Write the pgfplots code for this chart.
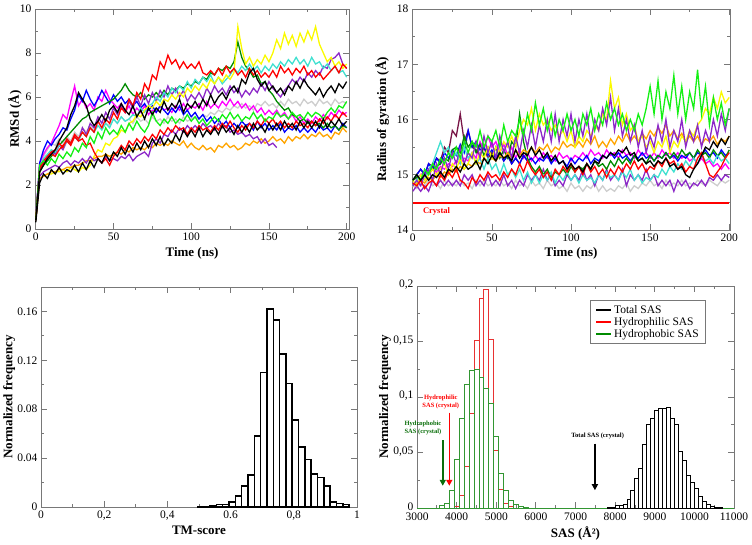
\documentclass[border=0pt]{standalone}
\usepackage{fontspec}
\setmainfont{Liberation Serif}
\usepackage{pgfplots}
\pgfplotsset{compat=1.18}
\usetikzlibrary{arrows.meta}
\definecolor{gred}{RGB}{255,0,0}
\definecolor{ggreen}{RGB}{20,240,20}
\definecolor{gblue}{RGB}{0,0,255}
\definecolor{gyellow}{RGB}{250,250,0}
\definecolor{ggrey}{RGB}{205,205,205}
\definecolor{gviolet}{RGB}{140,40,200}
\definecolor{gturq}{RGB}{64,224,208}
\definecolor{gmag}{RGB}{255,0,255}
\definecolor{gorange}{RGB}{255,165,0}
\definecolor{gdgreen}{RGB}{0,139,0}
\definecolor{gmaroon}{RGB}{120,20,70}
\definecolor{axgray}{RGB}{120,120,120}
\definecolor{hred}{RGB}{232,50,50}
\definecolor{hgreen}{RGB}{50,150,50}
\definecolor{adgreen}{RGB}{10,110,10}
\newcommand{\ser}[2]{\addplot[#1, line width=1.3pt] table[x expr=\coordindex*2.5, y index=0, header=false, row sep=\\]{#2};}
\pgfplotsset{panel/.style 2 args={scale only axis, anchor=south west,
  axis line style={axgray, line width=0.8pt}, tick style={axgray, line width=0.8pt},
  major tick length=6pt, minor tick length=3pt,
  scaled x ticks=false, scaled y ticks=false,
  tick label style={font=\fontsize{11.5}{13}\selectfont},
  every axis y label/.style={at={(axis description cs:#1,0.5)}, rotate=90, anchor=center, font=\bfseries\fontsize{13}{15}\selectfont},
  every axis x label/.style={at={(axis description cs:0.5,#2)}, anchor=center, font=\bfseries\fontsize{13}{15}\selectfont}}}
\begin{document}
\begin{tikzpicture}
\path[use as bounding box] (0,0) rectangle (752pt,544pt);
% ---------------- Panel 1: RMSd
\begin{axis}[panel={-0.064}{-0.109}, at={(35pt,315pt)}, width=314pt, height=220pt,
  xmin=-0.5, xmax=201.5, ymin=0, ymax=10,
  xtick={0,50,100,150,200}, xticklabels={0,50,100,150,200},
  ytick={0,2,4,6,8,10}, yticklabels={0,2,4,6,8,10},
  minor x tick num=1, minor y tick num=1,
  xlabel={Time (ns)}, ylabel={RMSd (Å)}]
\ser{ggrey}{0.4\\2.9\\3.3\\3.6\\3.9\\3.8\\4.1\\3.9\\4.2\\4.0\\4.4\\4.2\\4.6\\4.4\\4.7\\4.5\\4.9\\4.6\\4.8\\4.7\\5.0\\4.8\\5.1\\4.9\\5.0\\4.8\\5.1\\4.9\\5.0\\4.8\\5.1\\4.9\\5.0\\4.8\\5.1\\4.9\\5.0\\4.8\\5.1\\4.9\\5.0\\5.1\\5.0\\5.2\\5.1\\5.3\\5.2\\5.4\\5.3\\5.5\\5.4\\5.6\\5.5\\5.7\\5.5\\5.6\\5.4\\5.7\\5.6\\5.8\\5.6\\5.7\\5.5\\5.8\\5.6\\5.9\\5.7\\5.8\\5.6\\5.9\\5.7\\5.8\\5.6\\5.9\\5.7\\5.8\\5.6\\5.9\\5.7\\5.8\\5.7\\}
\ser{gmag}{0.4\\3.0\\3.4\\3.7\\3.9\\4.3\\4.7\\5.2\\5.0\\5.8\\6.5\\5.6\\5.9\\5.5\\5.7\\5.4\\6.0\\5.8\\6.3\\5.9\\5.7\\5.5\\5.7\\5.3\\5.6\\5.2\\5.5\\5.3\\5.6\\5.2\\5.4\\5.3\\5.6\\5.4\\5.5\\5.3\\5.6\\5.4\\5.7\\5.4\\5.6\\5.5\\5.7\\5.4\\5.8\\5.5\\5.7\\5.5\\5.8\\5.6\\5.9\\5.6\\5.8\\5.5\\5.7\\5.4\\5.6\\5.3\\5.5\\5.2\\5.4\\5.2\\5.4\\5.1\\5.3\\5.0\\5.2\\4.9\\5.1\\4.8\\5.0\\4.8\\5.1\\4.9\\5.2\\5.0\\5.3\\5.1\\5.4\\5.2\\5.3\\}
\ser{gblue}{0.4\\3.0\\3.6\\4.0\\3.8\\4.1\\4.3\\4.6\\4.5\\5.0\\5.4\\6.1\\5.8\\6.3\\5.9\\5.6\\5.9\\6.3\\6.0\\5.7\\6.1\\5.8\\6.0\\5.7\\5.9\\5.6\\5.8\\5.5\\5.7\\5.4\\5.6\\5.3\\5.6\\5.4\\5.2\\5.5\\5.3\\5.6\\5.2\\5.4\\5.1\\5.3\\5.0\\5.2\\4.9\\5.1\\4.8\\5.0\\4.7\\4.9\\4.6\\4.8\\4.6\\4.9\\4.7\\4.8\\4.5\\4.9\\4.6\\4.8\\4.5\\4.7\\4.5\\4.8\\4.4\\4.6\\4.5\\4.7\\4.4\\4.6\\4.4\\4.6\\4.4\\4.7\\4.5\\4.6\\4.4\\4.7\\4.5\\4.8\\4.6\\}
\ser{gdgreen}{0.4\\2.6\\2.9\\3.1\\3.3\\3.5\\3.8\\4.0\\4.2\\4.4\\4.6\\4.8\\5.0\\5.1\\5.3\\5.4\\5.5\\5.6\\5.7\\5.8\\5.9\\6.1\\6.3\\6.6\\6.3\\6.1\\6.0\\6.2\\5.9\\6.1\\6.0\\6.2\\6.0\\6.3\\6.1\\6.4\\6.3\\6.5\\6.4\\6.6\\6.5\\6.7\\6.6\\6.9\\6.8\\7.1\\7.0\\7.3\\7.2\\7.4\\7.3\\7.6\\8.5\\7.8\\7.4\\7.2\\6.9\\7.0\\6.6\\6.7\\6.3\\6.1\\5.8\\5.6\\5.4\\5.5\\5.2\\5.1\\4.9\\5.0\\4.8\\4.9\\4.7\\4.8\\4.6\\4.8\\4.6\\4.7\\4.5\\4.7\\4.6\\}
\ser{gviolet}{0.4\\2.8\\3.0\\3.3\\3.5\\3.4\\3.8\\3.6\\4.0\\3.9\\4.2\\4.0\\4.6\\4.3\\4.8\\4.6\\5.1\\4.8\\5.3\\5.0\\5.5\\5.2\\5.6\\5.3\\5.8\\5.5\\6.0\\5.6\\6.1\\5.7\\6.2\\5.8\\6.3\\6.0\\6.5\\6.1\\6.4\\6.0\\6.3\\5.8\\6.1\\5.9\\6.2\\5.9\\6.4\\6.1\\6.5\\6.2\\6.4\\6.1\\6.5\\6.2\\6.4\\6.0\\6.3\\6.1\\6.4\\6.2\\6.6\\6.3\\6.7\\6.4\\6.2\\6.0\\6.3\\6.5\\6.8\\6.6\\6.9\\6.7\\7.1\\6.9\\7.2\\7.0\\7.4\\7.3\\7.7\\7.8\\8.0\\7.5\\7.3\\}
\ser{gturq}{0.4\\2.8\\3.2\\3.4\\3.6\\3.5\\3.8\\3.7\\4.0\\3.9\\4.2\\4.0\\4.4\\4.2\\4.6\\4.4\\4.7\\4.5\\4.8\\4.6\\5.0\\4.8\\5.1\\4.9\\5.0\\5.2\\5.1\\5.5\\5.3\\5.6\\5.7\\6.0\\5.8\\6.2\\6.0\\6.4\\6.2\\6.5\\6.3\\6.7\\6.4\\6.8\\6.6\\6.9\\6.7\\7.0\\6.6\\6.9\\6.6\\6.8\\7.0\\7.3\\7.1\\7.4\\7.2\\7.5\\7.2\\7.4\\7.1\\7.4\\7.2\\7.5\\7.3\\7.6\\7.4\\7.7\\7.5\\7.8\\7.5\\7.7\\7.4\\7.8\\7.5\\7.6\\7.3\\7.5\\7.2\\7.4\\7.1\\7.2\\6.9\\}
\ser{gyellow}{0.4\\2.3\\2.4\\2.5\\2.5\\2.6\\2.6\\2.7\\2.6\\2.8\\2.7\\2.6\\2.8\\2.7\\2.9\\3.3\\3.6\\3.5\\3.9\\3.8\\4.1\\4.2\\4.5\\4.4\\4.8\\4.9\\5.2\\5.1\\5.4\\5.6\\5.5\\5.8\\5.6\\5.9\\5.8\\6.1\\5.9\\6.2\\6.0\\6.4\\6.2\\6.5\\6.3\\6.6\\6.4\\6.8\\6.6\\6.9\\6.7\\7.0\\6.8\\7.1\\9.2\\8.2\\7.5\\7.8\\7.4\\7.7\\7.5\\7.9\\7.6\\8.0\\8.6\\8.2\\8.9\\8.4\\8.8\\8.3\\8.9\\8.5\\9.0\\8.6\\9.2\\8.4\\8.0\\7.6\\7.8\\7.4\\7.6\\7.3\\7.5\\}
\ser{gorange}{0.4\\2.3\\2.4\\2.5\\2.6\\2.6\\2.7\\2.7\\2.8\\2.8\\2.9\\2.9\\3.0\\3.1\\3.1\\3.2\\3.3\\3.3\\3.4\\3.3\\3.4\\3.5\\3.4\\3.6\\3.5\\3.7\\3.6\\3.7\\3.6\\3.8\\3.7\\3.9\\3.8\\3.9\\3.8\\4.0\\3.9\\3.8\\4.0\\3.7\\3.9\\3.7\\3.6\\3.8\\3.6\\3.7\\3.5\\3.8\\3.7\\3.9\\3.7\\3.8\\3.6\\3.7\\3.9\\3.8\\4.0\\3.9\\4.1\\3.9\\4.0\\4.2\\4.0\\4.1\\3.9\\4.2\\4.0\\4.2\\4.1\\4.3\\4.1\\4.3\\4.2\\4.4\\4.2\\4.3\\4.1\\4.4\\4.3\\4.6\\4.4\\}
\ser{gviolet}{0.4\\2.4\\2.6\\2.7\\2.8\\2.9\\2.8\\3.0\\3.1\\2.9\\3.1\\3.0\\3.2\\3.0\\3.3\\3.1\\3.2\\3.0\\3.3\\3.1\\3.2\\3.1\\3.3\\3.2\\3.4\\3.1\\3.3\\3.4\\3.5\\3.3\\3.9\\4.1\\3.9\\4.3\\4.2\\4.5\\4.3\\4.6\\4.4\\4.7\\4.5\\4.7\\4.5\\4.8\\4.6\\4.7\\4.5\\4.8\\4.6\\4.7\\4.4\\4.5\\4.3\\4.4\\4.2\\4.3\\4.1\\4.2\\3.9\\4.1\\3.8\\3.9\\3.7\\}
\ser{gred}{0.4\\2.7\\3.0\\3.2\\3.4\\3.3\\3.6\\3.8\\4.0\\3.8\\4.2\\4.0\\4.1\\3.8\\3.9\\3.5\\3.2\\3.0\\3.2\\2.9\\3.3\\3.5\\3.8\\3.6\\4.0\\3.8\\4.1\\3.9\\4.2\\4.0\\4.3\\4.1\\4.5\\4.3\\4.6\\4.4\\4.7\\4.5\\4.6\\4.3\\4.6\\4.4\\4.7\\4.5\\4.6\\4.4\\4.7\\4.5\\4.8\\4.6\\4.9\\4.6\\4.4\\4.7\\4.5\\4.8\\4.6\\4.9\\4.7\\5.0\\4.8\\5.0\\4.7\\4.9\\4.6\\4.8\\4.6\\4.9\\4.7\\4.8\\4.6\\4.9\\4.7\\5.0\\4.8\\5.1\\4.9\\5.2\\5.0\\5.3\\5.1\\}
\ser{gred}{0.4\\2.8\\3.1\\3.3\\3.5\\3.6\\3.9\\3.7\\4.1\\3.9\\4.3\\4.1\\4.4\\4.2\\4.6\\4.4\\4.9\\4.6\\5.0\\4.8\\5.3\\5.0\\5.5\\5.3\\5.9\\5.6\\6.2\\5.9\\6.6\\6.3\\7.0\\6.8\\7.6\\7.3\\7.9\\7.5\\7.7\\7.3\\7.6\\7.3\\7.5\\7.3\\7.6\\7.1\\7.0\\7.2\\7.0\\7.3\\7.0\\7.4\\7.1\\7.3\\7.0\\7.2\\6.9\\7.3\\7.0\\7.2\\6.9\\7.1\\6.9\\7.2\\6.9\\7.4\\7.1\\7.3\\7.0\\7.3\\7.1\\7.4\\7.0\\7.2\\6.9\\7.1\\6.8\\7.0\\7.2\\7.4\\7.1\\7.5\\7.3\\}
\ser{ggreen}{0.4\\2.9\\3.1\\2.9\\3.2\\3.0\\3.4\\3.2\\3.5\\3.3\\3.7\\3.5\\3.9\\3.7\\4.2\\3.9\\4.4\\4.1\\4.6\\4.3\\4.5\\4.3\\4.7\\4.4\\4.8\\4.5\\4.9\\4.6\\4.4\\4.7\\5.3\\4.9\\4.7\\5.0\\4.8\\5.1\\4.8\\5.0\\4.9\\5.2\\4.9\\5.1\\4.8\\5.0\\4.7\\4.9\\5.1\\4.9\\5.2\\5.0\\5.3\\5.0\\5.2\\4.9\\5.1\\5.0\\5.3\\5.0\\5.2\\4.9\\5.1\\5.0\\5.3\\5.1\\5.2\\5.0\\5.3\\5.1\\5.2\\5.0\\5.3\\5.1\\5.3\\5.2\\5.0\\5.3\\5.5\\5.3\\5.6\\5.5\\5.8\\}
\ser{black}{0.4\\2.6\\2.9\\3.2\\3.4\\3.6\\4.0\\4.3\\4.6\\5.2\\5.6\\6.2\\5.9\\5.6\\5.0\\4.7\\4.9\\5.2\\4.9\\5.4\\5.6\\5.3\\5.7\\5.4\\5.2\\5.6\\5.1\\5.4\\5.0\\5.5\\5.2\\5.5\\5.3\\5.8\\5.4\\5.7\\5.5\\5.9\\5.3\\5.7\\5.5\\5.8\\5.5\\5.9\\5.6\\6.1\\5.7\\6.0\\6.2\\5.9\\6.3\\6.5\\6.2\\6.8\\6.6\\7.1\\7.3\\6.8\\6.5\\6.7\\6.3\\6.5\\6.2\\6.4\\6.1\\6.5\\6.3\\6.7\\6.4\\6.8\\6.5\\6.3\\6.1\\6.4\\6.0\\6.3\\6.5\\6.2\\6.6\\6.4\\6.7\\}
\ser{black}{0.3\\2.1\\2.5\\2.3\\2.7\\2.5\\2.8\\2.5\\2.7\\2.6\\2.9\\2.6\\3.0\\2.7\\3.1\\2.8\\3.2\\3.0\\3.4\\3.1\\3.5\\3.3\\3.7\\3.4\\3.8\\3.5\\3.9\\3.6\\4.0\\3.7\\4.1\\3.8\\4.2\\3.8\\4.1\\3.9\\4.3\\4.0\\4.5\\4.2\\4.5\\4.2\\4.6\\4.2\\4.5\\4.3\\4.6\\4.3\\4.7\\4.4\\4.6\\4.3\\4.7\\4.4\\4.7\\4.4\\4.8\\4.5\\4.7\\4.4\\4.8\\4.5\\4.8\\4.5\\4.9\\4.6\\4.8\\4.5\\4.9\\4.6\\4.9\\4.6\\4.9\\4.6\\5.0\\4.6\\4.9\\4.7\\5.0\\4.7\\4.9\\}
\end{axis}
% ---------------- Panel 2: Radius of gyration
\begin{axis}[panel={-0.094}{-0.104}, at={(412pt,314pt)}, width=318pt, height=221pt,
  xmin=-0.5, xmax=200.5, ymin=14, ymax=18,
  xtick={0,50,100,150,200}, xticklabels={0,50,100,150,200},
  ytick={14,15,16,17,18}, yticklabels={14,15,16,17,18},
  minor x tick num=1, minor y tick num=1,
  xlabel={Time (ns)}, ylabel={Radius of gyration (Å)}]
\ser{ggrey}{14.8\\14.75\\14.85\\14.8\\14.9\\14.8\\14.85\\14.75\\14.9\\14.8\\14.85\\14.8\\14.9\\14.8\\14.85\\14.75\\14.9\\14.8\\14.9\\14.8\\14.85\\14.8\\14.9\\14.8\\14.85\\14.75\\14.9\\14.8\\14.85\\14.75\\14.9\\14.8\\14.85\\14.75\\14.9\\14.8\\14.85\\14.75\\14.8\\14.7\\14.85\\14.75\\14.8\\14.7\\14.8\\14.75\\14.85\\14.7\\14.8\\14.7\\14.75\\14.7\\14.8\\14.75\\14.85\\14.7\\14.8\\14.75\\14.85\\14.8\\14.9\\14.8\\14.85\\14.75\\14.9\\14.8\\14.85\\14.8\\14.9\\14.8\\14.85\\14.8\\14.9\\14.85\\14.8\\14.9\\14.85\\14.8\\14.9\\14.85\\14.9\\}
\ser{gviolet}{14.7\\14.8\\14.7\\14.8\\14.7\\14.9\\14.8\\14.9\\14.8\\14.9\\14.8\\14.9\\14.8\\15.0\\14.9\\15.0\\14.8\\14.9\\14.8\\15.0\\14.8\\14.9\\14.8\\15.0\\14.8\\14.9\\14.75\\14.9\\14.8\\15.0\\14.9\\15.0\\14.9\\15.1\\14.9\\15.0\\14.8\\14.9\\14.8\\15.0\\14.9\\15.0\\14.9\\15.1\\14.9\\15.0\\14.8\\15.0\\14.9\\15.1\\14.9\\15.0\\14.9\\15.1\\14.8\\15.0\\14.9\\15.0\\14.9\\15.1\\14.9\\15.0\\14.8\\14.9\\14.8\\14.9\\14.7\\14.9\\14.8\\14.9\\14.75\\14.85\\14.8\\14.9\\14.8\\14.95\\14.9\\15.0\\14.9\\15.0\\14.95\\}
\ser{gmag}{14.9\\14.95\\15.0\\15.05\\15.0\\15.1\\15.05\\15.15\\15.1\\15.2\\15.15\\15.25\\15.2\\15.3\\15.25\\15.4\\15.3\\15.6\\15.45\\15.7\\15.5\\15.6\\15.4\\15.55\\15.35\\15.5\\15.3\\15.45\\15.3\\15.4\\15.25\\15.35\\15.25\\15.4\\15.3\\15.35\\15.25\\15.4\\15.3\\15.35\\15.25\\15.35\\15.3\\15.4\\15.3\\15.45\\15.35\\15.4\\15.3\\15.45\\15.35\\15.4\\15.3\\15.45\\15.35\\15.4\\15.3\\15.45\\15.35\\15.4\\15.3\\15.4\\15.3\\15.45\\15.35\\15.4\\15.3\\15.4\\15.3\\15.35\\15.25\\15.3\\15.2\\15.3\\15.2\\15.25\\15.15\\15.2\\15.1\\15.2\\15.1\\}
\ser{gmaroon}{14.9\\15.0\\15.1\\15.0\\15.2\\15.15\\15.3\\15.25\\15.5\\15.4\\15.8\\15.7\\16.1\\15.6\\15.8\\15.5\\15.45\\15.35\\15.5\\15.3\\15.4\\15.3\\15.4\\15.25\\15.35\\15.2\\15.3\\15.2\\15.35\\15.25\\15.3\\}
\ser{gblue}{14.9\\15.0\\15.1\\15.0\\15.2\\15.1\\15.3\\15.2\\15.4\\15.3\\15.45\\15.35\\15.55\\15.4\\15.8\\15.5\\15.6\\15.45\\15.5\\15.35\\15.45\\15.3\\15.4\\15.25\\15.35\\15.2\\15.3\\15.2\\15.35\\15.25\\15.3\\15.2\\15.3\\15.25\\15.35\\15.2\\15.3\\15.2\\15.25\\15.15\\15.3\\15.2\\15.3\\15.25\\15.35\\15.2\\15.3\\15.25\\15.35\\15.3\\15.4\\15.3\\15.4\\15.3\\15.35\\15.25\\15.35\\15.3\\15.4\\15.3\\15.35\\15.25\\15.35\\15.3\\15.4\\15.3\\15.35\\15.25\\15.35\\15.3\\15.4\\15.3\\15.4\\15.35\\15.45\\15.35\\15.4\\15.3\\15.45\\15.35\\15.4\\}
\ser{gdgreen}{14.9\\14.95\\14.9\\15.0\\15.05\\15.1\\15.15\\15.2\\15.3\\15.25\\15.45\\15.5\\15.4\\15.7\\15.5\\15.6\\15.4\\15.55\\15.35\\15.5\\15.3\\15.5\\15.3\\15.45\\15.3\\15.6\\15.5\\16.1\\15.6\\15.3\\15.15\\15.05\\15.15\\15.0\\15.1\\14.95\\15.05\\15.0\\15.1\\15.0\\15.15\\15.05\\15.15\\15.1\\15.2\\15.1\\15.25\\15.15\\15.2\\15.1\\15.25\\15.15\\15.3\\15.2\\15.3\\15.2\\15.35\\15.25\\15.3\\15.2\\15.35\\15.25\\15.35\\15.3\\15.4\\15.3\\15.4\\15.3\\15.45\\15.35\\15.4\\15.3\\15.45\\15.35\\15.4\\15.3\\15.45\\15.35\\15.4\\15.3\\15.45\\}
\ser{gorange}{14.8\\14.85\\14.9\\14.85\\14.95\\14.9\\15.0\\14.95\\15.05\\15.0\\15.1\\15.05\\15.15\\15.1\\15.2\\15.15\\15.25\\15.2\\15.3\\15.25\\15.3\\15.25\\15.35\\15.3\\15.4\\15.3\\15.45\\15.35\\15.45\\15.4\\15.5\\15.4\\15.5\\15.45\\15.55\\15.4\\15.5\\15.45\\15.6\\15.5\\15.55\\15.5\\15.6\\15.5\\15.65\\15.55\\15.7\\15.5\\15.6\\15.5\\15.65\\15.55\\15.7\\15.6\\15.75\\15.6\\15.7\\15.6\\15.75\\15.65\\15.8\\15.7\\15.85\\15.75\\15.9\\15.7\\15.8\\15.65\\15.75\\15.6\\15.7\\15.6\\15.7\\15.55\\15.65\\15.6\\15.7\\15.55\\15.65\\15.6\\15.7\\}
\ser{gturq}{14.8\\14.9\\15.0\\14.9\\15.1\\15.2\\15.4\\15.6\\15.4\\15.5\\15.3\\15.4\\15.2\\15.5\\15.3\\15.4\\15.2\\15.3\\15.1\\15.3\\15.1\\15.2\\15.0\\15.2\\15.0\\15.1\\14.95\\15.1\\14.9\\15.05\\14.85\\15.0\\14.85\\15.0\\14.9\\15.05\\14.85\\15.0\\14.9\\15.05\\14.9\\15.0\\14.85\\15.0\\14.9\\14.95\\14.85\\15.0\\14.9\\15.05\\14.95\\15.0\\14.9\\15.05\\14.95\\15.1\\14.9\\15.0\\14.85\\14.95\\14.9\\15.0\\14.95\\15.1\\15.0\\15.15\\15.05\\15.2\\15.1\\15.25\\15.15\\15.3\\15.2\\15.35\\15.25\\15.3\\15.2\\15.35\\15.25\\15.3\\15.2\\}
\ser{gyellow}{14.9\\14.8\\15.0\\14.9\\15.0\\15.1\\15.0\\15.1\\15.2\\15.0\\15.2\\15.1\\15.3\\15.1\\15.2\\15.4\\15.2\\15.4\\15.3\\15.5\\15.3\\15.5\\15.4\\15.6\\15.5\\15.7\\15.5\\15.8\\16.0\\15.9\\16.2\\15.8\\16.1\\15.9\\16.0\\15.8\\15.9\\15.7\\15.8\\15.6\\15.8\\15.5\\15.7\\15.6\\15.8\\15.7\\15.9\\15.8\\16.1\\16.0\\16.7\\16.2\\16.4\\15.9\\16.1\\15.8\\15.9\\15.6\\15.7\\15.5\\15.6\\15.4\\15.6\\15.5\\15.7\\15.4\\15.6\\15.5\\15.7\\15.6\\15.8\\15.7\\15.9\\16.0\\16.2\\16.1\\16.4\\16.2\\16.5\\16.3\\16.4\\}
\ser{gviolet}{14.8\\14.9\\14.8\\15.0\\15.1\\14.9\\15.2\\15.0\\15.3\\15.1\\15.4\\15.2\\15.5\\15.2\\15.4\\15.3\\15.6\\15.3\\15.7\\15.4\\15.6\\15.3\\15.7\\15.4\\15.6\\15.3\\15.7\\15.4\\15.8\\15.5\\15.9\\15.5\\15.9\\15.6\\16.0\\15.6\\16.1\\15.6\\16.0\\15.7\\16.1\\15.6\\16.0\\15.7\\16.1\\15.6\\16.0\\15.8\\16.2\\15.9\\16.4\\15.8\\16.2\\15.7\\16.0\\15.6\\15.9\\15.5\\15.8\\15.4\\15.7\\15.5\\15.9\\15.6\\16.0\\15.5\\15.8\\15.6\\16.0\\15.5\\15.8\\15.6\\15.9\\15.5\\15.8\\15.6\\16.0\\15.7\\16.1\\15.8\\16.2\\}
\ser{ggreen}{14.9\\15.0\\14.9\\15.1\\15.0\\15.2\\15.1\\15.3\\15.2\\15.4\\15.3\\15.5\\15.3\\15.6\\15.4\\15.6\\15.5\\15.8\\15.5\\15.7\\15.6\\15.8\\15.5\\15.9\\15.6\\15.8\\15.7\\16.0\\15.7\\16.1\\15.8\\16.3\\15.9\\16.2\\15.8\\16.1\\15.7\\16.0\\15.8\\16.1\\15.8\\16.0\\15.7\\16.1\\15.9\\16.2\\15.8\\16.1\\15.9\\16.3\\16.0\\16.2\\15.9\\16.1\\15.8\\16.0\\15.8\\16.1\\15.9\\16.2\\16.6\\16.1\\16.7\\16.0\\16.5\\16.2\\16.8\\16.1\\16.6\\16.0\\16.5\\16.2\\16.9\\16.1\\16.6\\15.9\\16.4\\16.0\\16.3\\15.9\\16.2\\}
\ser{gred}{14.85\\14.8\\14.9\\14.75\\14.85\\14.9\\14.8\\15.0\\14.9\\15.05\\14.95\\15.1\\14.9\\14.85\\14.75\\14.95\\14.85\\15.0\\14.9\\15.05\\14.95\\15.0\\14.9\\15.05\\14.95\\15.1\\15.0\\15.2\\15.05\\15.25\\15.1\\15.0\\15.1\\14.95\\15.05\\14.9\\15.1\\15.0\\15.15\\15.05\\15.2\\15.05\\15.15\\15.0\\15.2\\15.05\\15.15\\15.0\\15.1\\14.95\\15.1\\15.0\\15.15\\15.05\\15.2\\15.1\\15.25\\15.1\\15.2\\15.05\\15.15\\15.1\\15.25\\15.15\\15.3\\15.2\\15.25\\15.1\\15.2\\15.05\\15.15\\15.1\\15.3\\15.4\\15.2\\15.0\\14.95\\15.05\\15.15\\15.3\\15.4\\}
\ser{black}{14.9\\15.0\\14.9\\15.0\\14.9\\15.0\\14.95\\15.05\\14.95\\15.1\\15.05\\15.15\\15.05\\15.2\\15.1\\15.15\\15.25\\15.1\\15.3\\15.2\\15.35\\15.25\\15.4\\15.3\\15.35\\15.25\\15.45\\15.3\\15.4\\15.35\\15.5\\15.35\\15.45\\15.3\\15.4\\15.25\\15.35\\15.2\\15.25\\15.1\\15.2\\15.1\\15.15\\15.05\\15.2\\15.1\\15.25\\15.2\\15.35\\15.3\\15.4\\15.35\\15.45\\15.4\\15.5\\15.35\\15.4\\15.25\\15.3\\15.2\\15.25\\15.15\\15.25\\15.2\\15.3\\15.15\\15.2\\15.1\\15.15\\15.0\\14.95\\15.1\\15.2\\15.35\\15.5\\15.45\\15.6\\15.5\\15.65\\15.55\\15.7\\}
\addplot[gred, line width=2pt] coordinates {(0,14.48) (200,14.48)};
\node[text=gred, font=\bfseries\fontsize{8.5}{10}\selectfont] at (axis cs:15,14.34) {Crystal};
\end{axis}
% ---------------- Panel 3: TM-score histogram
\begin{axis}[panel={-0.101}{-0.108}, at={(41pt,37pt)}, width=316pt, height=220pt,
  xmin=0, xmax=1, ymin=0, ymax=0.18,
  xtick={0,0.2,0.4,0.6,0.8,1}, xticklabels={0,{0,2},{0,4},0.6,{0,8},1},
  ytick={0,0.04,0.08,0.12,0.16}, yticklabels={0,0.04,0.08,0.12,0.16},
  minor x tick num=1, minor y tick num=1,
  xlabel={TM-score}, ylabel={Normalized frequency}]
\addplot[ybar, bar width=0.02, fill=white, draw=black, line width=1.5pt] coordinates {
(0.505,0.0003) (0.525,0.0005) (0.545,0.001) (0.565,0.002) (0.585,0.002)
(0.605,0.004) (0.625,0.009) (0.645,0.017) (0.665,0.026) (0.685,0.058)
(0.705,0.110) (0.725,0.162) (0.745,0.153) (0.765,0.125) (0.785,0.101)
(0.805,0.071) (0.825,0.049) (0.845,0.039) (0.865,0.027) (0.885,0.024)
(0.905,0.017) (0.925,0.004) (0.945,0.003) (0.965,0.002)};
\end{axis}
% ---------------- Panel 4: SAS histograms
\begin{axis}[panel={-0.101}{-0.117}, at={(417pt,36pt)}, width=317pt, height=222pt,
  clip=false,
  xmin=3000, xmax=11000, ymin=0, ymax=0.2,
  xtick={3000,4000,5000,6000,7000,8000,9000,10000,11000},
  xticklabels={3000,4000,5000,6000,7000,8000,9000,10000,11000},
  xticklabel style={yshift=-1.5pt},
  ytick={0,0.05,0.1,0.15,0.2}, yticklabels={0,{0,05},{0,1},{0,15},{0,2}},
  yticklabel style={yshift=1pt},
  minor x tick num=1, minor y tick num=1,
  xlabel={SAS (Å²)}, ylabel={Normalized frequency},
  legend style={at={(0.912,0.937)}, anchor=north east, draw=axgray, line width=0.8pt,
    font=\fontsize{11.5}{12}\selectfont, row sep=-1.5pt, inner xsep=5pt, inner ysep=3pt},
  legend cell align=left,
  legend image code/.code={\draw[#1, line width=1.6pt] (0pt,0pt) -- (15pt,0pt);}]
\addplot[hgreen, line width=0.8pt, forget plot] coordinates {(3000,0) (11000,0)};
\addplot[ybar, bar shift=0pt, bar width=125, fill=none, draw=hred, line width=1pt, forget plot] coordinates {
(4002.5,0.0015) (4127.5,0.011) (4252.5,0.037) (4377.5,0.085) (4502.5,0.151)
(4627.5,0.189) (4752.5,0.197) (4877.5,0.152) (5002.5,0.052) (5127.5,0.017)
(5252.5,0.004) (5377.5,0.001)};
\addplot[ybar, bar shift=0pt, bar width=125, fill=none, draw=hgreen, line width=1pt, forget plot] coordinates {
(3627.5,0.002) (3752.5,0.004) (3877.5,0.016) (4002.5,0.044) (4127.5,0.081)
(4252.5,0.111) (4377.5,0.124) (4502.5,0.125) (4627.5,0.118) (4752.5,0.108)
(4877.5,0.094) (5002.5,0.064) (5127.5,0.031) (5252.5,0.016) (5377.5,0.007)
(5502.5,0.003) (5627.5,0.0012) (5752.5,0.0005)};
\addplot[ybar, bar shift=0pt, bar width=100, fill=none, draw=black, line width=1pt, forget plot] coordinates {
(7850,0.0003) (7950,0.0006) (8050,0.002) (8150,0.0025) (8250,0.003)
(8350,0.008) (8450,0.0156) (8550,0.027) (8650,0.036) (8750,0.057)
(8850,0.075) (8950,0.081) (9050,0.0877) (9150,0.0898) (9250,0.0898)
(9350,0.0907) (9450,0.081) (9550,0.0748) (9650,0.0513) (9750,0.043)
(9850,0.0297) (9950,0.0228) (10050,0.0177) (10150,0.0102) (10250,0.0057)
(10350,0.003) (10450,0.0018) (10550,0.0009) (10650,0.0004)};
\addplot[adgreen, line width=1.5pt, -{Triangle[width=6pt,length=6pt]}, forget plot] coordinates {(3650,0.061) (3650,0.020)};
\addplot[gred, line width=1.5pt, -{Triangle[width=6pt,length=6pt]}, forget plot] coordinates {(3815,0.086) (3815,0.020)};
\addplot[black, line width=1.5pt, -{Triangle[width=6pt,length=6pt]}, forget plot] coordinates {(7490,0.058) (7490,0.016)};
\node[text=gred, font=\bfseries\fontsize{6.5}{7.5}\selectfont, align=center] at (axis cs:3600,0.0955) {Hydrophilic\\SAS (crystal)};
\node[text=adgreen, font=\bfseries\fontsize{6.5}{7.5}\selectfont, align=center] at (axis cs:3150,0.072) {Hydrophobic\\SAS (crystal)};
\node[text=black, font=\bfseries\fontsize{6.5}{7.5}\selectfont] at (axis cs:7560,0.065) {Total SAS (crystal)};
\addlegendimage{black}
\addlegendentry{Total SAS}
\addlegendimage{gred}
\addlegendentry{Hydrophilic SAS}
\addlegendimage{gdgreen}
\addlegendentry{Hydrophobic SAS}
\end{axis}
\end{tikzpicture}
\end{document}
